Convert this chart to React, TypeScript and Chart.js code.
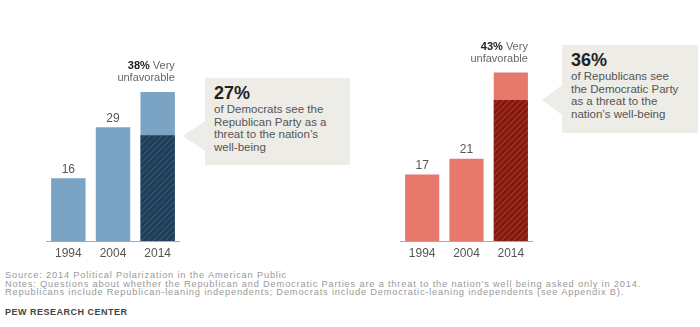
import React, { useEffect, useRef } from "react";
import { Chart, registerables } from "chart.js";

Chart.register(...registerables);

const years = ["1994", "2004", "2014"];
const demUnfavorable = [16, 29, 38];
const demThreat = [null, null, 27];
const repUnfavorable = [17, 21, 43];
const repThreat = [null, null, 36];
const topLabelSuffix = "Very";
const topLabelSecond = "unfavorable";
const Y_MAX = 61.5;

const FONT = '"Liberation Sans", Arial, sans-serif';

function makeHatch(bg: string, stripe: string) {
  const c = document.createElement("canvas");
  c.width = 6;
  c.height = 6;
  const ctx = c.getContext("2d")!;
  ctx.fillStyle = bg;
  ctx.fillRect(0, 0, 6, 6);
  ctx.strokeStyle = stripe;
  ctx.lineWidth = 1.2;
  ctx.beginPath();
  ctx.moveTo(0, 6);
  ctx.lineTo(6, 0);
  ctx.moveTo(-3, 3);
  ctx.lineTo(3, -3);
  ctx.moveTo(3, 9);
  ctx.lineTo(9, 3);
  ctx.stroke();
  return ctx.createPattern(c, "repeat");
}

const labelPlugin = {
  id: "barLabels",
  afterDatasetsDraw(chart: any) {
    const ctx = chart.ctx;
    const ds = chart.data.datasets[1];
    const meta = chart.getDatasetMeta(1);
    ctx.save();
    meta.data.forEach((bar: any, i: number) => {
      const v = ds.data[i];
      if (i < meta.data.length - 1) {
        ctx.font = `12px ${FONT}`;
        ctx.fillStyle = "#555";
        ctx.textAlign = "center";
        ctx.textBaseline = "middle";
        ctx.fillText(String(v), bar.x, bar.y - 9);
      } else {
        const right = bar.x + bar.width / 2;
        ctx.textAlign = "right";
        ctx.textBaseline = "middle";
        ctx.font = `11px ${FONT}`;
        ctx.fillStyle = "#666";
        ctx.fillText(topLabelSecond, right, bar.y - 14);
        ctx.fillText(topLabelSuffix, right, bar.y - 26);
        const w = ctx.measureText(" " + topLabelSuffix).width;
        ctx.font = `bold 11px ${FONT}`;
        ctx.fillStyle = "#222";
        ctx.fillText(`${v}%`, right - w, bar.y - 26);
      }
    });
    ctx.restore();
  },
};

type BarProps = {
  unfav: (number | null)[];
  threat: (number | null)[];
  light: string;
  dark: string;
  stripe: string;
  left: number;
  width: number;
};

function BarChart({ unfav, threat, light, dark, stripe, left, width }: BarProps) {
  const ref = useRef<HTMLCanvasElement>(null);
  useEffect(() => {
    if (!ref.current) return;
    const chart = new Chart(ref.current, {
      type: "bar",
      data: {
        labels: years,
        datasets: [
          {
            label: "Threat",
            data: threat,
            backgroundColor: makeHatch(dark, stripe) as any,
            categoryPercentage: 1,
            barPercentage: 0.77,
          },
          {
            label: "Very unfavorable",
            data: unfav,
            backgroundColor: light,
            categoryPercentage: 1,
            barPercentage: 0.77,
          },
        ],
      },
      options: {
        animation: false,
        responsive: false,
        maintainAspectRatio: false,
        devicePixelRatio: 1,
        layout: { padding: 0 },
        plugins: { legend: { display: false }, tooltip: { enabled: false } },
        scales: {
          x: {
            stacked: true,
            grid: { display: false, drawTicks: false },
            border: { display: true, color: "#aaa", width: 1 },
            ticks: { color: "#555", font: { family: FONT, size: 12 }, padding: 5 },
            afterFit: (s: any) => {
              s.height = 24;
            },
          },
          y: { stacked: false, display: false, min: 0, max: Y_MAX },
        },
      },
      plugins: [labelPlugin],
    });
    return () => chart.destroy();
  }, []);
  return (
    <canvas
      ref={ref}
      width={width}
      height={265}
      style={{ position: "absolute", left, top: 0, width, height: 265 }}
    />
  );
}

function Callout({
  left,
  top,
  width,
  height,
  tipX,
  tipY,
  pct,
  lines,
}: {
  left: number;
  top: number;
  width: number;
  height: number;
  tipX: number;
  tipY: number;
  pct: string;
  lines: string[];
}) {
  const bg = "#edece6";
  const half = 15;
  return (
    <>
      <div
        style={{
          position: "absolute",
          left: tipX,
          top: tipY - half,
          width: 0,
          height: 0,
          borderTop: `${half}px solid transparent`,
          borderBottom: `${half}px solid transparent`,
          borderRight: `${left - tipX}px solid ${bg}`,
        }}
      />
      <div
        style={{
          position: "absolute",
          left,
          top,
          width,
          height,
          background: bg,
          boxSizing: "border-box",
          padding: "5px 0 0 9px",
          color: "#555",
          fontFamily: FONT,
        }}
      >
        <div style={{ fontWeight: "bold", fontSize: 18, color: "#222", lineHeight: "20px" }}>{pct}</div>
        {lines.map((l, i) => (
          <div key={i} style={{ fontSize: 11.5, lineHeight: "12.7px" }}>
            {l}
          </div>
        ))}
      </div>
    </>
  );
}

export default function App() {
  return (
    <div
      style={{
        position: "absolute",
        left: 0,
        top: 0,
        width: 700,
        height: 327,
        background: "#fff",
        overflow: "hidden",
        fontFamily: FONT,
      }}
    >
      <BarChart unfav={demUnfavorable} threat={demThreat} light="#7ba3c4" dark="#1f3d56" stripe="#33587a" left={46} width={134} />
      <BarChart unfav={repUnfavorable} threat={repThreat} light="#e6786c" dark="#85190f" stripe="#a3372c" left={400} width={133} />
      <Callout
        left={205}
        top={78}
        width={145}
        height={87}
        tipX={183}
        tipY={136}
        pct="27%"
        lines={["of Democrats see the", "Republican Party as a", "threat to the nation’s", "well-being"]}
      />
      <Callout
        left={562}
        top={45}
        width={136}
        height={88}
        tipX={542}
        tipY={100}
        pct="36%"
        lines={["of Republicans see", "the Democratic Party", "as a threat to the", "nation’s well-being"]}
      />
      <div
        style={{
          position: "absolute",
          left: 5,
          top: 271,
          fontSize: 9.3,
          lineHeight: "8.7px",
          letterSpacing: "0.8px",
          color: "#999",
          whiteSpace: "nowrap",
        }}
      >
        <div>Source: 2014 Political Polarization in the American Public</div>
        <div>Notes: Questions about whether the Republican and Democratic Parties are a threat to the nation’s well being asked only in 2014.</div>
        <div>Republicans include Republican-leaning independents; Democrats include Democratic-leaning independents (see Appendix B).</div>
      </div>
      <div
        style={{
          position: "absolute",
          left: 5,
          top: 307,
          fontSize: 9,
          letterSpacing: "0.5px",
          fontWeight: "bold",
          color: "#444",
          whiteSpace: "nowrap",
        }}
      >
        PEW RESEARCH CENTER
      </div>
    </div>
  );
}
